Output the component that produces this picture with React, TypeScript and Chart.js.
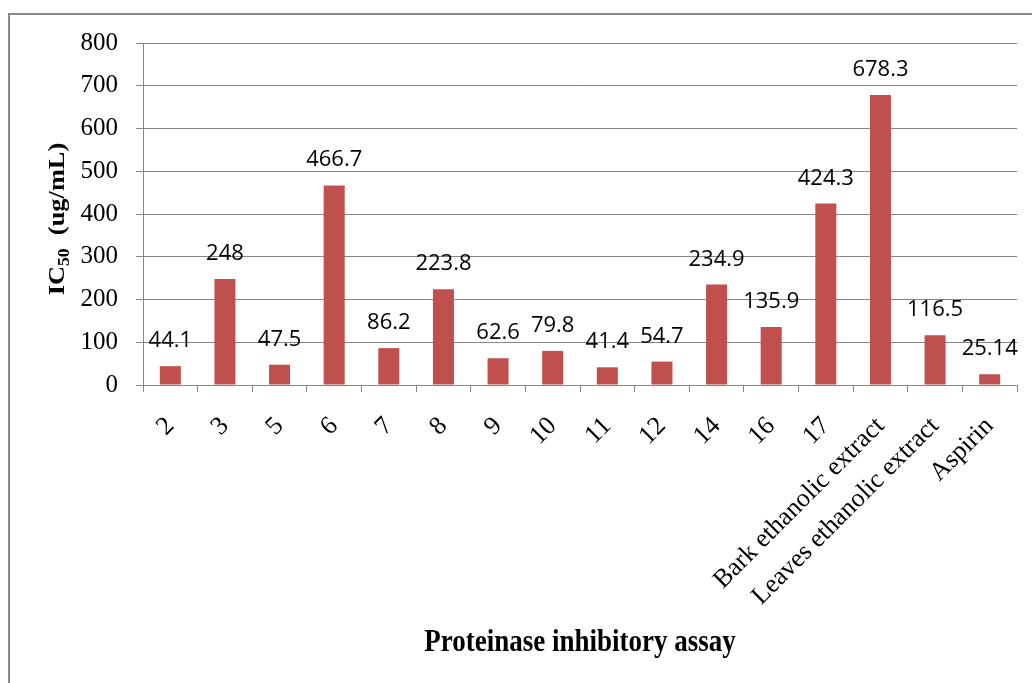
import React, { useEffect, useRef } from "react";
import { Chart, registerables } from "chart.js";

Chart.register(...registerables);

const categories = ["2", "3", "5", "6", "7", "8", "9", "10", "11", "12", "14", "16", "17", "Bark ethanolic extract", "Leaves ethanolic extract", "Aspirin"];
const ic50Values = [44.1, 248, 47.5, 466.7, 86.2, 223.8, 62.6, 79.8, 41.4, 54.7, 234.9, 135.9, 424.3, 678.3, 116.5, 25.14];
const yTicks = [0, 100, 200, 300, 400, 500, 600, 700, 800];
const xTitle = "Proteinase inhibitory assay";
const yTitleMain = "IC";
const yTitleSub = "50";
const yTitleRest = "  (ug/mL)";

const W = 1032;
const H = 683;
const AXIS_LEFT = 143;
const AXIS_BOTTOM = 385;

const labelPlugin = {
  id: "customLabels",
  afterDatasetsDraw(chart: any) {
    const ctx = chart.ctx;
    const meta = chart.getDatasetMeta(0);
    ctx.save();
    ctx.fillStyle = "#000";
    ctx.font = "22px 'Open Sans'";
    ctx.textAlign = "center";
    ctx.textBaseline = "alphabetic";
    meta.data.forEach((bar: any, i: number) => {
      ctx.fillText(String(ic50Values[i]), bar.x, bar.y - 19);
    });
    ctx.restore();
  },
  afterDraw(chart: any) {
    const ctx = chart.ctx;
    const area = chart.chartArea;
    ctx.save();
    // x title
    ctx.fillStyle = "#000";
    ctx.font = "bold 27px 'Liberation Serif'";
    ctx.textAlign = "center";
    ctx.textBaseline = "alphabetic";
    ctx.save();
    ctx.translate((area.left + area.right) / 2, 651);
    ctx.scale(1, 1.15);
    ctx.fillText(xTitle, 0, 0);
    ctx.restore();
    // y title with subscript
    const mainFont = "bold 24px 'Liberation Serif'";
    const subFont = "bold 16px 'Liberation Serif'";
    ctx.font = mainFont;
    const w1 = ctx.measureText(yTitleMain).width;
    const w3 = ctx.measureText(yTitleRest).width;
    ctx.font = subFont;
    const w2 = ctx.measureText(yTitleSub).width;
    const total = w1 + w2 + w3;
    ctx.translate(64, 219);
    ctx.rotate(-Math.PI / 2);
    ctx.scale(1.1, 1);
    ctx.textAlign = "left";
    let x = -total / 2;
    ctx.font = mainFont;
    ctx.fillText(yTitleMain, x, 0);
    x += w1;
    ctx.font = subFont;
    ctx.fillText(yTitleSub, x, 5);
    x += w2;
    ctx.font = mainFont;
    ctx.fillText(yTitleRest, x, 0);
    ctx.restore();
  },
};

export default function App() {
  const ref = useRef<HTMLCanvasElement | null>(null);
  useEffect(() => {
    if (!ref.current) return;
    const chart = new Chart(ref.current, {
      type: "bar",
      data: {
        labels: categories,
        datasets: [
          {
            data: ic50Values,
            backgroundColor: "#C0504D",
            borderWidth: 0,
            barPercentage: 0.385,
            categoryPercentage: 1,
          },
        ],
      },
      options: {
        animation: false,
        responsive: false,
        maintainAspectRatio: false,
        layout: { padding: { top: 43, right: 15, left: 0, bottom: 0 } },
        plugins: { legend: { display: false }, tooltip: { enabled: false }, title: { display: false } },
        scales: {
          x: {
            afterFit: (s: any) => {
              s.height = H - AXIS_BOTTOM;
            },
            grid: {
              offset: true,
              drawOnChartArea: false,
              drawTicks: true,
              tickLength: 7,
              color: "#868686",
              lineWidth: 1,
            },
            border: { display: true, color: "#868686", width: 1 },
            ticks: {
              autoSkip: false,
              minRotation: 45,
              maxRotation: 45,
              padding: 19,
              color: "#000",
              font: { family: "'Liberation Serif'", size: 26 },
            },
          },
          y: {
            min: 0,
            max: 800,
            afterFit: (s: any) => {
              s.width = AXIS_LEFT;
            },
            afterBuildTicks: (s: any) => {
              s.ticks = yTicks.map((v) => ({ value: v }));
            },
            grid: {
              color: "#868686",
              lineWidth: 1,
              drawTicks: true,
              tickLength: 7,
            },
            border: { display: true, color: "#868686", width: 1 },
            ticks: {
              padding: 18,
              color: "#000",
              font: { family: "'Liberation Serif'", size: 25 },
            },
          },
        },
      },
      plugins: [labelPlugin],
    });
    return () => chart.destroy();
  }, []);

  return (
    <div style={{ position: "fixed", left: 0, top: 0, width: W, height: H, background: "#fff", overflow: "hidden" }}>
      <div
        style={{
          position: "absolute",
          left: 8,
          top: 13,
          width: W - 8,
          height: H - 13,
          borderLeft: "2px solid #888",
          borderTop: "2px solid #888",
          boxSizing: "border-box",
        }}
      />
      <canvas ref={ref} width={W} height={H} style={{ position: "absolute", left: 0, top: 0, width: W, height: H }} />
    </div>
  );
}
